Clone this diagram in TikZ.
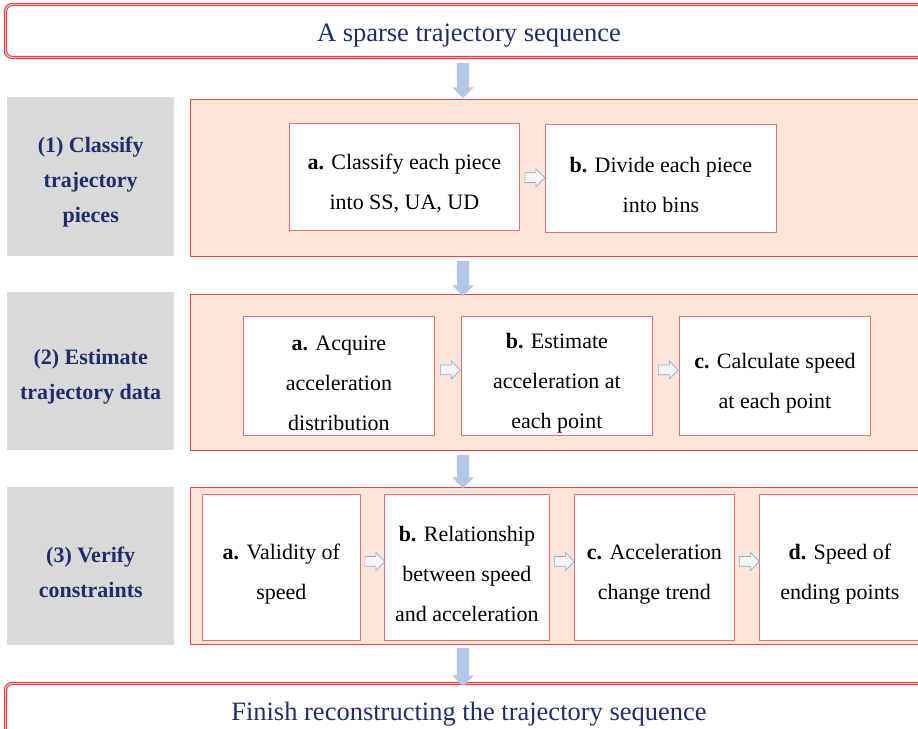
\documentclass[tikz,border=0pt]{standalone}
\usepackage{fontspec}
\setmainfont{Liberation Serif}
\usetikzlibrary{shapes.arrows,calc}
\definecolor{navy}{HTML}{1F2E6B}
\definecolor{bred}{HTML}{D9383A}
\definecolor{bpink}{HTML}{F4B4B4}
\definecolor{salmon}{HTML}{FBE5D6}
\definecolor{pred}{HTML}{E04848}
\definecolor{boxred}{HTML}{E87070}
\definecolor{lgray}{HTML}{D9D9D9}
\definecolor{lblue}{HTML}{B4C7E7}
\definecolor{arrline}{HTML}{8FAADC}
\definecolor{arrfill}{HTML}{F4F4F4}
\newcommand{\tstrut}{\rule{0pt}{29pt}}
\newcommand{\gstrut}{\rule{0pt}{27pt}}
\begin{document}
\begin{tikzpicture}[x=1pt,y=-1pt,
  banner/.style={draw=bred, double=bpink, double distance=1.4pt, line width=0.9pt,
    rounded corners=7pt, fill=white, anchor=north west, inner sep=0pt,
    font=\fontsize{26.5}{30}\selectfont, text=navy},
  graybox/.style={fill=lgray, anchor=north west, inner sep=0pt, align=center,
    font=\bfseries\fontsize{22}{35}\selectfont, text=navy},
  panel/.style={fill=salmon, draw=pred, line width=1.3pt, anchor=north west, inner sep=0pt},
  stepbox/.style={fill=white, draw=boxred, line width=0.8pt, anchor=north west,
    inner sep=0pt, align=center, font=\fontsize{22}{40}\selectfont, text=black},
  bigarr/.style={single arrow, fill=lblue, draw=none, shape border rotate=270,
    inner sep=6pt, single arrow head extend=4.5pt, single arrow head indent=0pt,
    minimum width=21pt},
  smallarr/.style={single arrow, fill=arrfill, draw=arrline, line width=0.7pt,
    inner sep=4.5pt, single arrow head extend=4pt, single arrow head indent=0pt,
    minimum width=18pt, minimum height=20pt}
]
\useasboundingbox (0,0) rectangle (918,728);
\clip (0,0) rectangle (918,728);

% banners
\node[banner, minimum width=927pt, minimum height=53pt] (top) at (5,4) {\rule{0pt}{27pt}A sparse trajectory sequence};
\node[banner, minimum width=927pt, minimum height=53pt] (bottom) at (5,683) {\rule{0pt}{26pt}Finish reconstructing the trajectory sequence};

% gray labels
\node[graybox, minimum width=167pt, minimum height=159pt] (g1) at (7,97) {\gstrut(1) Classify\\trajectory\\pieces};
\node[graybox, minimum width=167pt, minimum height=158pt] (g2) at (7,292) {\gstrut(2) Estimate\\trajectory data};
\node[graybox, minimum width=167pt, minimum height=158pt] (g3) at (7,487) {\gstrut(3) Verify\\constraints};

% panels
\node[panel, minimum width=745pt, minimum height=157pt] (p1) at (190,99) {};
\node[panel, minimum width=745pt, minimum height=156pt] (p2) at (190,294) {};
\node[panel, minimum width=745pt, minimum height=157pt] (p3) at (190,487) {};

% step boxes row 1
\node[stepbox, minimum width=230pt, minimum height=107pt] (s1a) at (289,123) {\tstrut\textbf{a.} Classify each piece\\into SS, UA, UD};
\node[stepbox, minimum width=231pt, minimum height=108pt] (s1b) at (545,124) {\tstrut\textbf{b.} Divide each piece\\into bins};

% row 2
\node[stepbox, minimum width=191pt, minimum height=119pt] (s2a) at (243,316) {\tstrut\textbf{a.} Acquire\\acceleration\\distribution};
\node[stepbox, minimum width=191pt, minimum height=119pt] (s2b) at (461,316) {\tstrut\textbf{b.} Estimate\\acceleration at\\each point};
\node[stepbox, minimum width=191pt, minimum height=119pt] (s2c) at (679,316) {\tstrut\textbf{c.} Calculate speed\\at each point};

% row 3
\node[stepbox, minimum width=158pt, minimum height=146pt] (s3a) at (202,494) {\tstrut\textbf{a.} Validity of\\speed};
\node[stepbox, minimum width=165pt, minimum height=146pt] (s3b) at (384,494) {\tstrut\textbf{b.} Relationship\\between speed\\and acceleration};
\node[stepbox, minimum width=160pt, minimum height=146pt] (s3c) at (574,494) {\tstrut\textbf{c.} Acceleration\\change trend};
\node[stepbox, minimum width=161pt, minimum height=146pt] (s3d) at (759,494) {\tstrut\textbf{d.} Speed of\\ending points};

% big arrows
\node[bigarr, minimum height=35pt] (A1) at (463,77.5) {};
\node[bigarr, minimum height=35pt] (A2) at (463,275.5) {};
\node[bigarr, minimum height=33pt] (A3) at (463,468.5) {};
\node[bigarr, minimum height=38pt] (A4) at (463,664) {};

% small arrows
\node[smallarr] (a11) at ($(s1a.east)!0.5!(s1b.west)$) {};
\node[smallarr] (a21) at ($(s2a.east)!0.5!(s2b.west)+(0,-6)$) {};
\node[smallarr] (a22) at ($(s2b.east)!0.5!(s2c.west)+(0,-6)$) {};
\node[smallarr] (a31) at ($(s3a.east)!0.5!(s3b.west)+(0,-6)$) {};
\node[smallarr] (a32) at ($(s3b.east)!0.5!(s3c.west)+(0,-6)$) {};
\node[smallarr] (a33) at ($(s3c.east)!0.5!(s3d.west)+(0,-6)$) {};
\end{tikzpicture}
\end{document}
